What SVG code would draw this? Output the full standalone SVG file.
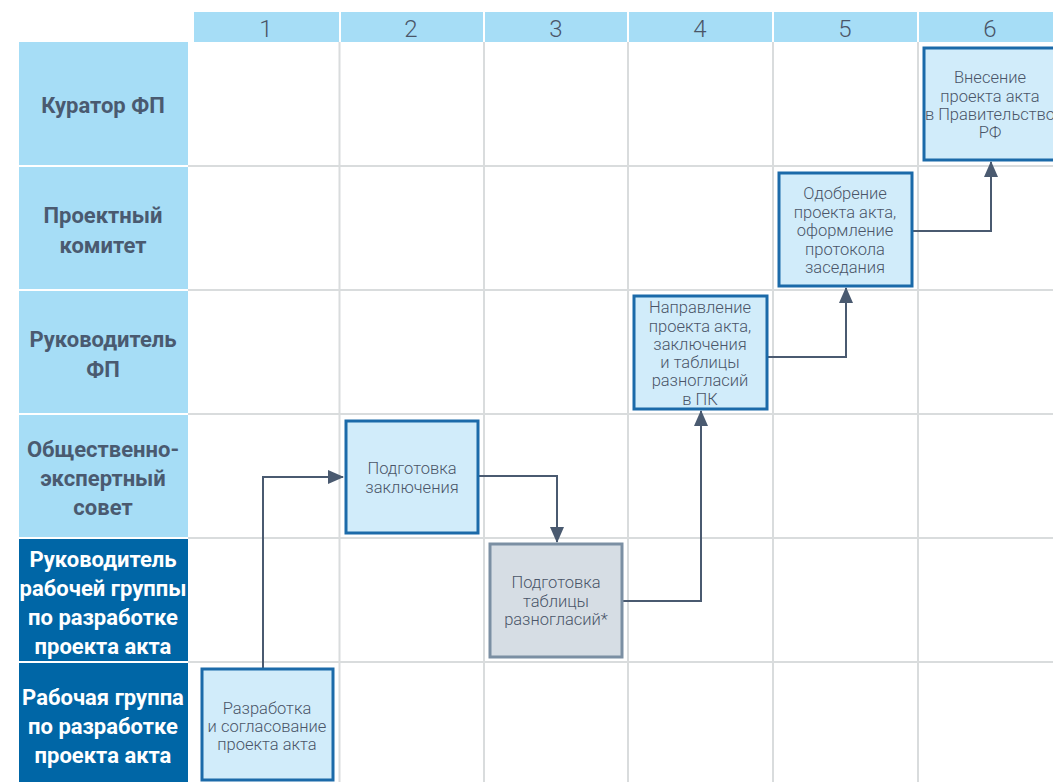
<svg xmlns="http://www.w3.org/2000/svg" width="1053" height="782" viewBox="0 0 1053 782">
<defs>
<style>
.hdr{fill:#a6ddf6}
.num{font-family:Roboto,"Liberation Sans",sans-serif;font-weight:300;font-size:24px;fill:#4a5568;text-anchor:middle}
.lab1{fill:#a6ddf6}
.lab2{fill:#0066a6}
.lt{font-family:Roboto,"Liberation Sans",sans-serif;font-weight:700;font-size:22px;text-anchor:middle}
.dk{fill:#4a5a70}
.wh{fill:#ffffff}
.grid{stroke:#d9dcdd;stroke-width:2;fill:none}
.box{fill:#d1ecfa;stroke:#1b6aa9;stroke-width:3}
.gbox{fill:#d6dde4;stroke:#7b8fa3;stroke-width:3}
.bt{font-family:Roboto,"Liberation Sans",sans-serif;font-weight:300;font-size:16.5px;fill:#4a5568;text-anchor:middle}
.con{stroke:#4a5a70;stroke-width:2;fill:none}
</style>
<marker id="arr" markerWidth="16" markerHeight="14" refX="15" refY="7" orient="auto" markerUnits="userSpaceOnUse">
<path d="M0,0 L16,7 L0,14 Z" fill="#4a5a70"/>
</marker>
</defs>
<rect width="1053" height="782" fill="#ffffff"/>
<g id="header">
<rect class="hdr" x="194" y="12" width="145" height="30"/>
<rect class="hdr" x="341" y="12" width="142" height="30"/>
<rect class="hdr" x="485" y="12" width="142" height="30"/>
<rect class="hdr" x="629" y="12" width="143" height="30"/>
<rect class="hdr" x="774" y="12" width="143" height="30"/>
<rect class="hdr" x="919" y="12" width="134" height="30"/>
<text class="num" x="266" y="37">1</text>
<text class="num" x="411" y="37">2</text>
<text class="num" x="556" y="37">3</text>
<text class="num" x="700" y="37">4</text>
<text class="num" x="845" y="37">5</text>
<text class="num" x="990" y="37">6</text>
</g>
<g id="grid">
<path class="grid" d="M339.5,42V782M484,42V782M628,42V782M773,42V782M918,42V782"/>
<path class="grid" d="M188,166H1053M188,290H1053M188,414H1053M188,538H1053M188,662H1053"/>
</g>
<g id="lanes">
<rect class="lab1" x="19" y="42" width="169" height="123"/>
<rect class="lab1" x="19" y="167" width="169" height="122"/>
<rect class="lab1" x="19" y="291" width="169" height="122"/>
<rect class="lab1" x="19" y="415" width="169" height="122"/>
<rect class="lab2" x="19" y="539" width="169" height="122"/>
<rect class="lab2" x="19" y="663" width="169" height="119"/>
<text class="lt dk" x="103" y="113">Куратор ФП</text>
<text class="lt dk" x="103" y="223">Проектный</text>
<text class="lt dk" x="103" y="253">комитет</text>
<text class="lt dk" x="103" y="347">Руководитель</text>
<text class="lt dk" x="103" y="377">ФП</text>
<text class="lt dk" x="103" y="457">Общественно-</text>
<text class="lt dk" x="103" y="486">экспертный</text>
<text class="lt dk" x="103" y="515">совет</text>
<text class="lt wh" x="103" y="567">Руководитель</text>
<text class="lt wh" x="103" y="596">рабочей группы</text>
<text class="lt wh" x="103" y="625">по разработке</text>
<text class="lt wh" x="103" y="654">проекта акта</text>
<text class="lt wh" x="103" y="705">Рабочая группа</text>
<text class="lt wh" x="103" y="734">по разработке</text>
<text class="lt wh" x="103" y="763">проекта акта</text>
</g>
<g id="connectors">
<path class="con" d="M263,669V477H343" marker-end="url(#arr)"/>
<path class="con" d="M478,476H557V542" marker-end="url(#arr)"/>
<path class="con" d="M622,601H701V411" marker-end="url(#arr)"/>
<path class="con" d="M767,357H846V288" marker-end="url(#arr)"/>
<path class="con" d="M912,231H991V162" marker-end="url(#arr)"/>
</g>
<g id="n1">
<rect class="box" x="202" y="669" width="131" height="111"/>
<text class="bt" x="267" y="714">Разработка</text>
<text class="bt" x="267" y="732">и согласование</text>
<text class="bt" x="267" y="750">проекта акта</text>
</g>
<g id="n2">
<rect class="box" x="346" y="421" width="132" height="112"/>
<text class="bt" x="412" y="474">Подготовка</text>
<text class="bt" x="412" y="493">заключения</text>
</g>
<g id="n3">
<rect class="gbox" x="490" y="544" width="132" height="113"/>
<text class="bt" x="556" y="588">Подготовка</text>
<text class="bt" x="556" y="607">таблицы</text>
<text class="bt" x="556" y="625">разногласий*</text>
</g>
<g id="n4">
<rect class="box" x="634" y="296" width="133" height="113"/>
<text class="bt" x="700" y="313">Направление</text>
<text class="bt" x="700" y="332">проекта акта,</text>
<text class="bt" x="700" y="350">заключения</text>
<text class="bt" x="700" y="368">и таблицы</text>
<text class="bt" x="700" y="386">разногласий</text>
<text class="bt" x="700" y="405">в ПК</text>
</g>
<g id="n5">
<rect class="box" x="779" y="173" width="133" height="113"/>
<text class="bt" x="845" y="199">Одобрение</text>
<text class="bt" x="845" y="218">проекта акта,</text>
<text class="bt" x="845" y="236">оформление</text>
<text class="bt" x="845" y="255">протокола</text>
<text class="bt" x="845" y="273">заседания</text>
</g>
<g id="n6">
<rect class="box" x="924" y="48" width="133" height="112"/>
<text class="bt" x="990" y="83">Внесение</text>
<text class="bt" x="990" y="102">проекта акта</text>
<text class="bt" x="990" y="120">в Правительство</text>
<text class="bt" x="990" y="138">РФ</text>
</g>
</svg>
